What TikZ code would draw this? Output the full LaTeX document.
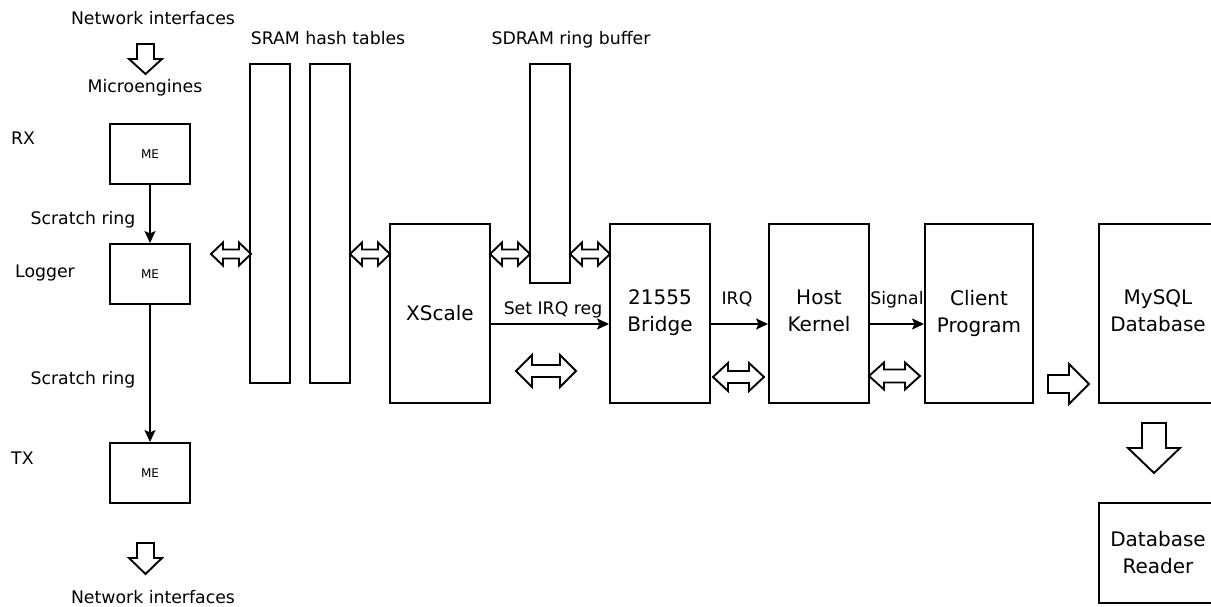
\documentclass[tikz,border=0pt]{standalone}
\usepackage{fontspec}
\setmainfont{DejaVu Sans}
\usetikzlibrary{arrows.meta}
\tikzset{
 box/.style={draw, line width=1.9pt, inner sep=0pt, align=center, font=\fontsize{20}{27}\selectfont},
 mebox/.style={box, minimum width=80pt, minimum height=60pt, font=\fontsize{12}{14}\selectfont},
 bar/.style={draw, line width=1.9pt, inner sep=0pt, minimum width=40pt},
 lbl/.style={inner sep=0pt, text height=12.6pt, text depth=0pt, font=\fontsize{17.3}{21}\selectfont},
 conn/.style={line width=1.9pt, -{Stealth[length=12pt,width=11pt,inset=2.5pt]}},
 blk/.style={draw, line width=1.9pt, fill=white, line join=miter},
}
% double block arrow: x1, x2, y, head half-height, shaft half-height, head length
\newcommand\myDA[6]{%
 \draw[blk] (#1,#3) -- (#1+#6,#3-#4) -- (#1+#6,#3-#5) -- (#2-#6,#3-#5) -- (#2-#6,#3-#4) -- (#2,#3)
  -- (#2-#6,#3+#4) -- (#2-#6,#3+#5) -- (#1+#6,#3+#5) -- (#1+#6,#3+#4) -- cycle;}
% down block arrow: x centre, y top, y head base, y tip, shaft half, head half
\newcommand\myDown[6]{%
 \draw[blk] (#1-#5,#2) -- (#1+#5,#2) -- (#1+#5,#3) -- (#1+#6,#3) -- (#1,#4) -- (#1-#6,#3) -- (#1-#5,#3) -- cycle;}
% right block arrow: y centre, x left, x head base, x tip, shaft half, head half
\newcommand\myRight[6]{%
 \draw[blk] (#2,#1-#5) -- (#3,#1-#5) -- (#3,#1-#6) -- (#4,#1) -- (#3,#1+#6) -- (#3,#1+#5) -- (#2,#1+#5) -- cycle;}
\begin{document}
\begin{tikzpicture}[x=1pt,y=-1pt]
\useasboundingbox (0,0) rectangle (1211,607);
\clip (0,0) rectangle (1211,607);
% labels
\node[lbl] (net1) at (153,18) {Network interfaces};
\node[lbl] (micro) at (145,86) {Microengines};
\node[lbl,anchor=west] (rx) at (11,138) {RX};
\node[lbl,anchor=west] (logger) at (15,271) {Logger};
\node[lbl,anchor=west] (tx) at (11,458) {TX};
\node[lbl] (sr1) at (83,218) {Scratch ring};
\node[lbl] (sr2) at (83,378) {Scratch ring};
\node[lbl] (sramlbl) at (328,38) {SRAM hash tables};
\node[lbl] (sdramlbl) at (571,38) {SDRAM ring buffer};
\node[lbl] (setirq) at (553,308) {Set IRQ reg};
\node[lbl] (irq) at (737,298) {IRQ};
\node[lbl] (signal) at (897,298) {Signal};
\node[lbl] (net2) at (153,597) {Network interfaces};
% boxes
\node[mebox] (me1) at (150,154) {ME};
\node[mebox] (me2) at (150,274) {ME};
\node[mebox] (me3) at (150,473) {ME};
\node[bar, minimum height=319pt] (sram1) at (270,223.5) {};
\node[bar, minimum height=319pt] (sram2) at (330,223.5) {};
\node[bar, minimum height=219pt] (sdram) at (550,173.5) {};
\node[box, minimum width=100pt, minimum height=179pt] (xscale) at (440,313.5) {XScale};
\node[box, minimum width=100pt, minimum height=179pt] (bridge) at (660,313.5) {21555\\Bridge\rule[-5pt]{0pt}{0pt}};
\node[box, minimum width=100pt, minimum height=179pt] (kernel) at (819,313.5) {Host\\Kernel\rule[-5pt]{0pt}{0pt}};
\node[box, minimum width=108pt, minimum height=179pt] (client) at (979,313.5) {Client\\Program\rule[-5pt]{0pt}{0pt}};
\node[box, minimum width=118pt, minimum height=179pt] (mysql) at (1158,313.5) {MySQL\\Database\rule[-5pt]{0pt}{0pt}};
\node[box, minimum width=118pt, minimum height=100pt] (reader) at (1158,553) {Database\\Reader};
% connectors
\draw[conn] (me1) -- (me2);
\draw[conn] (me2) -- (me3);
\coordinate (ya) at (0,324);
\draw[conn] (xscale.east |- ya) -- (bridge.west |- ya);
\draw[conn] (bridge.east |- ya) -- (kernel.west |- ya);
\draw[conn] (kernel.east |- ya) -- (client.west |- ya);
% block arrows
\myDown{145.5}{44}{59}{74}{8.5}{16.5}
\myDown{145.5}{543}{558}{574}{8.5}{16.5}
\myDown{1154}{423}{448}{473}{12}{26}
\myRight{384}{1048}{1069}{1089}{9}{20}
\myDA{211}{251}{254}{11.5}{4.5}{12}
\myDA{350}{390}{254}{11.5}{4.5}{12}
\myDA{490}{530}{254}{11.5}{4.5}{12}
\myDA{570}{610}{254}{11.5}{4.5}{12}
\myDA{516}{576}{371}{16}{6}{16}
\myDA{713}{764}{377}{14}{6}{15}
\myDA{869}{920}{376}{13.5}{6.5}{15}
\end{tikzpicture}
\end{document}
